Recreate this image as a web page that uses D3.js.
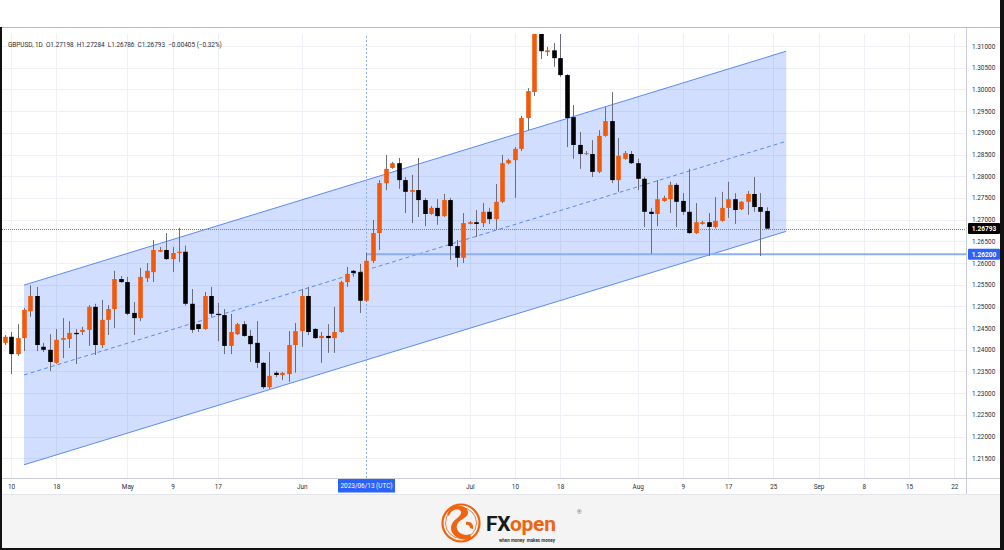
<!DOCTYPE html>
<html><head><meta charset="utf-8">
<script src="https://cdn.jsdelivr.net/npm/d3@7"></script>
<style>
html,body{margin:0;padding:0;background:#fff;}
svg{display:block;}
text{font-family:Roboto,"Liberation Sans",sans-serif;}
</style></head>
<body>
<svg id="chart" width="1004" height="550"></svg>
<script>
// ---------------- DATA ----------------
const symbol = "GBPUSD, 1D";
const firstBarDate = "2023-04-09";   // daily bars Sun–Fri
const open  = [1.2416,1.2430,1.2390,1.2427,1.2489,1.2524,1.2407,1.2400,1.2370,1.2423,1.2425,1.2439,1.2441,1.2446,1.2499,1.2411,1.2469,1.2494,1.2563,1.2556,
1.2485,1.2473,1.2565,1.2579,1.2626,1.2630,1.2609,1.2623,1.2626,1.2506,1.2459,1.2448,1.2524,1.2483,1.2480,1.2409,1.2436,1.2459,1.2432,1.2416,
1.2370,1.2314,1.2347,1.2342,1.2344,1.2411,1.2443,1.2524,1.2448,1.2427,1.2432,1.2427,1.2441,1.2556,1.2582,1.2579,1.2513,1.2605,1.2669,1.2784,
1.2819,1.2830,1.2791,1.2764,1.2768,1.2745,1.2713,1.2727,1.2708,1.2745,1.2639,1.2612,1.2690,1.2694,1.2692,1.2718,1.2701,1.2741,1.2830,1.2837,
1.2863,1.2934,1.2994,1.3136,1.3086,1.3090,1.3072,1.3033,1.2936,1.2872,1.2851,1.2851,1.2810,1.2893,1.2927,1.2791,1.2840,1.2851,1.2830,1.2794,
1.2718,1.2713,1.2743,1.2747,1.2780,1.2743,1.2718,1.2669,1.2690,1.2694,1.2683,1.2697,1.2727,1.2747,1.2724,1.2741,1.2759,1.2729,1.27198];
const high  = [1.2434,1.2441,1.2459,1.2496,1.2549,1.2545,1.2416,1.2436,1.2448,1.2473,1.2466,1.2448,1.2453,1.2503,1.2506,1.2515,1.2503,1.2582,1.2570,1.2568,
1.2510,1.2589,1.2600,1.2653,1.2637,1.2669,1.2637,1.2681,1.2640,1.2540,1.2459,1.2533,1.2545,1.2508,1.2494,1.2483,1.2462,1.2466,1.2446,1.2466,
1.2372,1.2395,1.2351,1.2349,1.2443,1.2462,1.2540,1.2545,1.2450,1.2441,1.2459,1.2499,1.2559,1.2591,1.2584,1.2598,1.2623,1.2699,1.2791,1.2849,
1.2833,1.2842,1.2798,1.2803,1.2842,1.2750,1.2731,1.2747,1.2759,1.2750,1.2653,1.2715,1.2697,1.2722,1.2738,1.2727,1.2782,1.2849,1.2840,1.2867,
1.2939,1.3003,1.3140,1.3144,1.3098,1.3107,1.3143,1.3035,1.2964,1.2902,1.2858,1.2883,1.2906,1.2959,1.2994,1.2888,1.2858,1.2858,1.2840,1.2798,
1.2727,1.2791,1.2755,1.2787,1.2784,1.2761,1.2817,1.2738,1.2697,1.2715,1.2752,1.2764,1.2787,1.2761,1.2743,1.2766,1.2798,1.2761,1.27284];
const low   = [1.2411,1.2344,1.2386,1.2397,1.2476,1.2397,1.2395,1.2351,1.2368,1.2381,1.2404,1.2367,1.2434,1.2409,1.2388,1.2404,1.2434,1.2450,1.2554,1.2480,
1.2434,1.2466,1.2556,1.2556,1.2625,1.2607,1.2579,1.2602,1.2502,1.2439,1.2441,1.2446,1.2476,1.2420,1.2390,1.2390,1.2434,1.2430,1.2372,1.2358,
1.2310,1.2310,1.2337,1.2330,1.2326,1.2347,1.2407,1.2434,1.2425,1.2370,1.2393,1.2393,1.2439,1.2545,1.2568,1.2485,1.2510,1.2600,1.2630,1.2768,
1.2817,1.2771,1.2715,1.2692,1.2706,1.2685,1.2711,1.2688,1.2706,1.2607,1.2591,1.2600,1.2689,1.2660,1.2683,1.2690,1.2676,1.2738,1.2827,1.2750,
1.2858,1.2906,1.2985,1.3070,1.3077,1.3052,1.3029,1.2867,1.2840,1.2817,1.2849,1.2798,1.2807,1.2891,1.2784,1.2764,1.2838,1.2828,1.2768,1.2683,
1.2621,1.2685,1.2741,1.2715,1.2683,1.2711,1.2667,1.2667,1.2688,1.2616,1.2680,1.2695,1.2704,1.2690,1.2722,1.2711,1.2718,1.2616,1.26786];
const close = [1.2430,1.2390,1.2427,1.2492,1.2524,1.2411,1.2400,1.2372,1.2423,1.2427,1.2439,1.2436,1.2446,1.2499,1.2411,1.2469,1.2494,1.2563,1.2556,1.2483,
1.2473,1.2568,1.2582,1.2630,1.2630,1.2609,1.2623,1.2626,1.2506,1.2446,1.2448,1.2524,1.2483,1.2480,1.2409,1.2441,1.2459,1.2432,1.2413,1.2370,
1.2314,1.2340,1.2342,1.2347,1.2411,1.2443,1.2524,1.2441,1.2427,1.2432,1.2427,1.2441,1.2556,1.2575,1.2577,1.2513,1.2605,1.2669,1.2784,1.2817,
1.2830,1.2791,1.2764,1.2768,1.2745,1.2713,1.2727,1.2708,1.2745,1.2639,1.2612,1.2692,1.2694,1.2690,1.2718,1.2701,1.2741,1.2830,1.2837,1.2863,
1.2934,1.2996,1.3136,1.3088,1.3090,1.3072,1.3033,1.2934,1.2872,1.2851,1.2853,1.2810,1.2893,1.2927,1.2791,1.2847,1.2853,1.2830,1.2794,1.2718,
1.2713,1.2747,1.2750,1.2780,1.2741,1.2718,1.2669,1.2694,1.2694,1.2683,1.2697,1.2727,1.2747,1.2722,1.2741,1.2759,1.2729,1.2718,1.26793];
const headerChange = "\u22120.00405 (\u22120.32%)";

const priceTicks = [1.215,1.22,1.225,1.23,1.235,1.24,1.245,1.25,1.255,1.26,1.265,1.27,1.275,1.28,1.285,1.29,1.295,1.30,1.305,1.31];
const dateTickDates  = ["2023-04-10","2023-04-18","2023-05-01","2023-05-09","2023-05-17","2023-06-01","2023-07-02","2023-07-10","2023-07-18","2023-08-01","2023-08-09","2023-08-17","2023-08-25","2023-09-01","2023-09-08","2023-09-15","2023-09-22"];
const dateTickLabels = ["10","18","May","9","17","Jun","Jul","10","18","Aug","9","17","25","Sep","8","15","22"];

// parallel channel (two anchor dates, upper & lower prices)
const channelDates = ["2023-04-12","2023-08-27"];
const channelUpper = [1.2549, 1.3088];
const channelLower = [1.2135, 1.2673];

const rayDate = "2023-06-13";   // horizontal ray anchor
const rayLevel = 1.26200;
const crosshairDate = "2023-06-13";
const crosshairLabel = "2023/06/13 (UTC)";
const lastPrice = 1.26793;

// ---------------- SETUP ----------------
const svg = d3.select("#chart");
const W = 1004, H = 550;
const plot = {left: 2, right: 966, top: 34, bottom: 478};
const ORANGE = "#f05a0a", BLACK = "#000000", WICK = "#6b6e78";
const CH = "#5b8af5";

const nBars = open.length;
const bars = open.map((o,i)=>({o, h: high[i], l: low[i], c: close[i]}));
const start = new Date(firstBarDate + "T00:00:00Z");
const dates = [];
for (let d = start; dates.length < nBars; d = d3.utcDay.offset(d, 1)) if (d.getUTCDay() !== 6) dates.push(d);
const lastDate = dates[nBars-1];
function slotOf(s){
  const d = new Date(s + "T00:00:00Z");
  if (d <= lastDate) { const k = dates.findIndex(x => +x === +d); if (k >= 0) return k; }
  return nBars - 1 + d3.utcDay.count(lastDate, d);
}

const x = d3.scaleLinear().domain([0, nBars-1]).range([4.6, 766.9]);
const y = d3.scaleLinear().domain([1.215, 1.31]).range([458.3, 46]);

svg.append("rect").attr("width", W).attr("height", H).attr("fill", "#fff");

svg.append("defs").append("clipPath").attr("id","pc")
  .append("rect").attr("x",plot.left).attr("y",plot.top).attr("width",plot.right-plot.left).attr("height",plot.bottom-plot.top);

const g = svg.append("g").attr("clip-path","url(#pc)");

// grid
g.append("g").selectAll("line").data(priceTicks).join("line")
  .attr("x1", plot.left).attr("x2", plot.right)
  .attr("y1", d=>Math.round(y(d))+0.5).attr("y2", d=>Math.round(y(d))+0.5)
  .attr("stroke", "#eef0f5").attr("stroke-width", 1);
const tickSlots = dateTickDates.map(slotOf);
g.append("g").selectAll("line").data(tickSlots).join("line")
  .attr("y1", plot.top - 6).attr("y2", plot.bottom)
  .attr("x1", d=>Math.round(x(d))+0.5).attr("x2", d=>Math.round(x(d))+0.5)
  .attr("stroke", "#eef0f5").attr("stroke-width", 1);

// channel
const cs = channelDates.map(slotOf);
const chanPoly = [[x(cs[0]), y(channelUpper[0])],[x(cs[1]), y(channelUpper[1])],[x(cs[1]), y(channelLower[1])],[x(cs[0]), y(channelLower[0])]];
g.append("path").attr("d", "M" + chanPoly.map(p=>p.join(",")).join("L") + "Z")
  .attr("fill", "rgba(41,98,255,0.21)");
g.append("line").attr("x1", x(cs[0])).attr("y1", y(channelUpper[0])).attr("x2", x(cs[1])).attr("y2", y(channelUpper[1]))
  .attr("stroke", CH).attr("stroke-width", 1);
g.append("line").attr("x1", x(cs[0])).attr("y1", y(channelLower[0])).attr("x2", x(cs[1])).attr("y2", y(channelLower[1]))
  .attr("stroke", CH).attr("stroke-width", 1);
g.append("line").attr("x1", x(cs[0])).attr("y1", y((channelUpper[0]+channelLower[0])/2))
  .attr("x2", x(cs[1])).attr("y2", y((channelUpper[1]+channelLower[1])/2))
  .attr("stroke", CH).attr("stroke-width", 1).attr("stroke-dasharray", "4,3");

// crosshair vertical
const chx = Math.round(x(slotOf(crosshairDate))) + 0.5;
g.append("line").attr("x1", chx).attr("x2", chx).attr("y1", plot.top - 6).attr("y2", plot.bottom)
  .attr("stroke", "#8fb0f5").attr("stroke-width", 1).attr("stroke-dasharray", "2,2");

// last price dotted line
g.append("line").attr("x1", plot.left).attr("x2", plot.right)
  .attr("y1", Math.round(y(lastPrice))+0.5).attr("y2", Math.round(y(lastPrice))+0.5)
  .attr("stroke", "#7a7d87").attr("stroke-width", 1).attr("stroke-dasharray", "1,1");

// horizontal ray
g.append("line").attr("x1", x(slotOf(rayDate))).attr("x2", plot.right)
  .attr("y1", y(rayLevel)).attr("y2", y(rayLevel))
  .attr("stroke", "#8eaef6").attr("stroke-width", 2);

// candles
const bw = 4.6;
const cg = g.append("g");
cg.selectAll("line.w").data(bars).join("line").attr("class","w")
  .attr("x1", (d,i)=>Math.round(x(i))+0.5).attr("x2", (d,i)=>Math.round(x(i))+0.5)
  .attr("y1", d=>y(d.h)).attr("y2", d=>y(d.l))
  .attr("stroke", WICK).attr("stroke-width", 1);
cg.selectAll("rect").data(bars).join("rect")
  .attr("x", (d,i)=>Math.round(x(i))+0.5 - bw/2)
  .attr("width", bw)
  .attr("y", d=>y(Math.max(d.o,d.c)))
  .attr("height", d=>Math.max(1, Math.abs(y(d.o)-y(d.c))))
  .attr("fill", d=> d.c >= d.o ? ORANGE : BLACK);

// header legend
const last = bars[nBars-1];
const f5 = d3.format(".5f");
svg.append("text").attr("x", 8).attr("y", 47).attr("font-size", 6.4).attr("fill", "#2a2e39")
  .attr("xml:space","preserve")
  .text(`${symbol}  O${f5(last.o)}  H${f5(last.h)}  L${f5(last.l)}  C${f5(last.c)}  ${headerChange}`);

// frame lines
svg.append("line").attr("x1",0).attr("x2",W).attr("y1",27.5).attr("y2",27.5).attr("stroke","#b8bbc2");
svg.append("line").attr("x1",plot.right+0.5).attr("x2",plot.right+0.5).attr("y1",28).attr("y2",495).attr("stroke","#c9ccd3");
svg.append("line").attr("x1",0).attr("x2",1000).attr("y1",478.5).attr("y2",478.5).attr("stroke","#c9ccd3");
svg.append("line").attr("x1",0).attr("x2",1000).attr("y1",494.5).attr("y2",494.5).attr("stroke","#e3e5ea");

// price axis
const ay = svg.append("g").attr("transform", `translate(${plot.right},0)`)
  .call(d3.axisRight(y).tickValues(priceTicks).tickFormat(d3.format(".5f")).tickSize(0).tickPadding(6));
ay.select(".domain").remove();
ay.selectAll("text").attr("font-size", 6.4).attr("fill", "#2a2e39").attr("font-family","Roboto,sans-serif");

// price labels
function priceBox(v, fill){
  const yy = y(v);
  svg.append("rect").attr("x", plot.right+2).attr("y", yy-5.5).attr("width", 32).attr("height", 11).attr("fill", fill).attr("rx",1);
  svg.append("text").attr("x", plot.right+18).attr("y", yy+2.3).attr("text-anchor","middle")
    .attr("font-size", 6.6).attr("font-weight", "bold").attr("fill", "#fff").text(f5(v));
}
priceBox(lastPrice, "#000");
priceBox(rayLevel, "#2962ff");

// date axis
const ax = svg.append("g").attr("transform", `translate(0,${plot.bottom})`)
  .call(d3.axisBottom(x).tickValues(tickSlots).tickFormat((d,i)=>dateTickLabels[i]).tickSize(0).tickPadding(6));
ax.select(".domain").remove();
ax.selectAll("text").attr("font-size", 6.4).attr("fill", "#2a2e39").attr("font-family","Roboto,sans-serif");

// crosshair date label
svg.append("rect").attr("x", chx-28.5).attr("y", 479).attr("width", 57).attr("height", 13.5).attr("fill", "#2962ff");
svg.append("text").attr("x", chx).attr("y", 488.3).attr("text-anchor","middle").attr("font-size", 6.4)
  .attr("fill","#fff").text(crosshairLabel);

// logo band
svg.append("rect").attr("x",0).attr("y",495).attr("width",W).attr("height",55).attr("fill","#f4f4f4");
const lg = svg.append("g");
lg.append("circle").attr("cx",461).attr("cy",523).attr("r",18.5).attr("fill","none").attr("stroke","#f0640f").attr("stroke-width",2.2);
lg.append("circle").attr("cx",461).attr("cy",523).attr("r",15.5).attr("fill","none").attr("stroke","#f0640f").attr("stroke-width",0.8);
lg.append("path").attr("d","M452,509 C457,504 467,505 468,512 C469,518 459,519 457,525 C455,532 464,537 470,534 L472,539 C462,542 450,536 451,527 C452,519 462,517 461,512 C460,508 455,509 452,511 Z")
  .attr("fill","#f0640f");
lg.append("path").attr("d","M447,514 C450,507 455,505 459,505 L457,508 C453,509 450,512 449,516 Z").attr("fill","#f0640f");
lg.append("path").attr("d","M466,522 C471,521 474,525 473,529 L470,528 C470,526 468,524 466,525 Z").attr("fill","#f0640f");
lg.append("text").attr("x",486).attr("y",530.5).attr("font-family","'DejaVu Sans',sans-serif").attr("font-weight","bold")
  .attr("font-size",21).attr("letter-spacing",-0.3).attr("fill","#1a1a1a").text("FX")
  .append("tspan").attr("fill","#f0640f").text("open");
lg.append("text").attr("x",577).attr("y",514).attr("font-size",6).attr("fill","#777").text("\u00ae");
lg.append("text").attr("x",499).attr("y",541.5).attr("font-size",4.5).attr("font-weight","bold").attr("fill","#333")
  .attr("xml:space","preserve").text("when money  makes money");

// borders
svg.append("rect").attr("x",0).attr("y",27).attr("width",2).attr("height",H-27).attr("fill","#111");
svg.append("rect").attr("x",1000).attr("y",0).attr("width",4).attr("height",H).attr("fill","#111");
svg.append("rect").attr("x",0).attr("y",548).attr("width",W).attr("height",2).attr("fill","#111");
</script>
</body></html>
